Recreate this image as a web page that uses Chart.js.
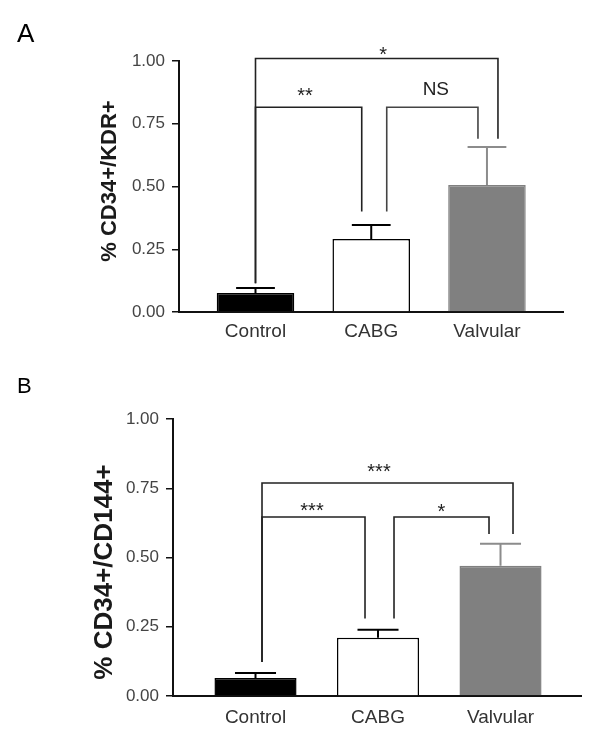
<!DOCTYPE html>
<html>
<head>
<meta charset="utf-8">
<script src="https://cdn.jsdelivr.net/npm/chart.js@4/dist/chart.umd.min.js"></script>
<style>
  html, body { margin: 0; padding: 0; background: #fff; }
  #wrap { position: relative; width: 600px; height: 742px; }
  canvas { position: absolute; left: 0; }
  #chartA { top: 0; }
  #chartB { top: 360px; }
</style>
</head>
<body>
<div id="wrap">
  <canvas id="chartA" width="600" height="360"></canvas>
  <canvas id="chartB" width="600" height="382"></canvas>
</div>
<script>
// Groups shared by both panels
const categories = ["Control", "CABG", "Valvular"];
const groupPos = [1, 2, 3];
const yTicks = [0, 0.25, 0.5, 0.75, 1.0];

// Panel A: % CD34+/KDR+  (mean, upper SEM)
const meanA = [0.076, 0.291, 0.506];
const semA = [0.020, 0.056, 0.151];
const bracketPairsA = [[0, 2], [0, 1], [1, 2]];
const bracketLevelsA = [1.01, 0.816, 0.816];
const bracketLabelsA = ["*", "**", "NS"];
const labelLevelsA = [1.038, 0.876, 0.89];
const legEndsA = [0.115, 0.40, 0.69];

// Panel B: % CD34+/CD144+
const meanB = [0.065, 0.21, 0.47];
const semB = [0.018, 0.029, 0.08];
const bracketPairsB = [[0, 2], [0, 1], [1, 2]];
const bracketLevelsB = [0.769, 0.646, 0.646];
const bracketLabelsB = ["***", "***", "*"];
const labelLevelsB = [0.823, 0.682, 0.679];
const legEndsB = [0.123, 0.28, 0.585];

Chart.defaults.font.family = '"Liberation Sans", Arial, sans-serif';

// Draws error bars, significance brackets, the y title and the panel letter.
const panelPlugin = {
  id: 'panel',
  afterDatasetsDraw(chart, args, opts) {
    const ctx = chart.ctx;
    const xs = chart.scales.x, ys = chart.scales.y;
    const meta = chart.getDatasetMeta(0);
    ctx.save();

    // upper error bars
    meta.data.forEach((bar, i) => {
      const top = ys.getPixelForValue(opts.means[i] + opts.sems[i]);
      const half = bar.width / 4;
      ctx.strokeStyle = opts.errColors[i];
      ctx.lineWidth = 2;
      ctx.beginPath();
      ctx.moveTo(bar.x, bar.y);
      ctx.lineTo(bar.x, top);
      ctx.moveTo(bar.x - half, top);
      ctx.lineTo(bar.x + half, top);
      ctx.stroke();
    });

    // brackets
    opts.pairs.forEach((p, k) => {
      const [a, b] = p;
      const xa = xs.getPixelForValue(groupPos[a]) + opts.legDx[k][0];
      const xb = xs.getPixelForValue(groupPos[b]) + opts.legDx[k][1];
      const yl = ys.getPixelForValue(opts.levels[k]);
      ctx.strokeStyle = opts.bracketColors[k];
      ctx.lineWidth = 1.6;
      ctx.beginPath();
      ctx.moveTo(xa, ys.getPixelForValue(opts.legEnds[a]));
      ctx.lineTo(xa, yl);
      ctx.lineTo(xb, yl);
      ctx.lineTo(xb, ys.getPixelForValue(opts.legEnds[b]));
      ctx.stroke();

      const label = opts.labels[k];
      ctx.font = (label === 'NS' ? '19px' : '20px') + ' "Liberation Sans", Arial, sans-serif';
      ctx.fillStyle = '#222';
      ctx.textAlign = 'center';
      ctx.textBaseline = 'alphabetic';
      const m = ctx.measureText(label);
      const ty = ys.getPixelForValue(opts.labelLevels[k]);
      ctx.fillText(label, (xa + xb) / 2 + opts.labelDx[k],
        ty + (m.actualBoundingBoxAscent - m.actualBoundingBoxDescent) / 2);
    });

    // y axis title
    ctx.save();
    ctx.translate(opts.titleX, opts.titleY);
    ctx.rotate(-Math.PI / 2);
    ctx.font = 'bold ' + opts.titleSize + 'px "Liberation Sans", Arial, sans-serif';
    ctx.fillStyle = '#1a1a1a';
    ctx.textAlign = 'center';
    ctx.textBaseline = 'middle';
    ctx.fillText(opts.title, 0, 0);
    ctx.restore();

    // panel letter
    ctx.font = opts.letterSize + 'px "Liberation Sans", Arial, sans-serif';
    ctx.fillStyle = '#000';
    ctx.textAlign = 'left';
    ctx.textBaseline = 'alphabetic';
    ctx.fillText(opts.letter, 17, opts.letterY);
    ctx.restore();
  }
};

function makePanel(canvasId, cfg) {
  return new Chart(document.getElementById(canvasId), {
    type: 'bar',
    data: {
      datasets: [{
        data: groupPos.map((g, i) => ({ x: g, y: cfg.means[i] })),
        backgroundColor: ['#000000', '#ffffff', '#808080'],
        borderColor: ['#000000', '#000000', '#808080'],
        borderWidth: 1.5,
        categoryPercentage: 1,
        barPercentage: 0.67
      }]
    },
    options: {
      responsive: false,
      animation: false,
      devicePixelRatio: 1,
      layout: { padding: cfg.padding },
      plugins: {
        legend: { display: false },
        tooltip: { enabled: false },
        panel: cfg
      },
      scales: {
        x: {
          type: 'linear',
          min: cfg.xMin,
          max: cfg.xMax,
          offset: false,
          bounds: 'data',
          grace: 0,
          afterBuildTicks: s => { s.ticks = groupPos.map(v => ({ value: v })); },
          ticks: {
            callback: v => categories[groupPos.indexOf(v)],
            font: { size: 19 },
            color: '#333',
            padding: cfg.xLabelPad,
            autoSkip: false,
            maxRotation: 0
          },
          grid: { display: false, drawTicks: false, offset: false },
          border: { display: true, color: '#111', width: 2 },
          afterFit: s => { s.height = cfg.xAxisHeight; }
        },
        y: {
          min: 0,
          max: 1,
          afterBuildTicks: s => { s.ticks = yTicks.map(v => ({ value: v })); },
          ticks: {
            callback: v => v.toFixed(2),
            font: { size: 17 },
            color: '#444',
            padding: 7
          },
          grid: { drawOnChartArea: false, tickLength: 7, color: '#111', lineWidth: 1.5 },
          border: { color: '#111', width: 2 },
          afterFit: s => { s.width = cfg.yAxisWidth; }
        }
      }
    },
    plugins: [panelPlugin]
  });
}

makePanel('chartA', {
  means: meanA, sems: semA,
  pairs: bracketPairsA, levels: bracketLevelsA, labels: bracketLabelsA,
  labelLevels: labelLevelsA, legEnds: legEndsA,
  legDx: [[0, 11], [0, -9.5], [15.5, -9]],
  labelDx: [6.5, -3.5, 3.5],
  bracketColors: ['#222', '#222', '#444'],
  errColors: ['#000', '#000', '#8c8c8c'],
  title: '% CD34+/KDR+', titleX: 110, titleY: 181, titleSize: 22,
  letter: 'A', letterY: 42, letterSize: 26,
  xMin: 0.339, xMax: 3.657,
  padding: { top: 61, right: 37, bottom: 0, left: 0 },
  yAxisWidth: 179, xAxisHeight: 48, xLabelPad: 8
});

makePanel('chartB', {
  means: meanB, sems: semB,
  pairs: bracketPairsB, levels: bracketLevelsB, labels: bracketLabelsB,
  labelLevels: labelLevelsB, legEnds: legEndsB,
  legDx: [[6.5, 12.5], [6.5, -13], [16, -11.5]],
  labelDx: [-8.5, -1.5, 0],
  bracketColors: ['#222', '#222', '#222'],
  errColors: ['#000', '#000', '#8c8c8c'],
  title: '% CD34+/CD144+', titleX: 105, titleY: 212, titleSize: 26,
  letter: 'B', letterY: 33, letterSize: 22,
  xMin: 0.3265, xMax: 3.657,
  padding: { top: 59, right: 19, bottom: 0, left: 0 },
  yAxisWidth: 173, xAxisHeight: 46, xLabelPad: 10
});
</script>
</body>
</html>
